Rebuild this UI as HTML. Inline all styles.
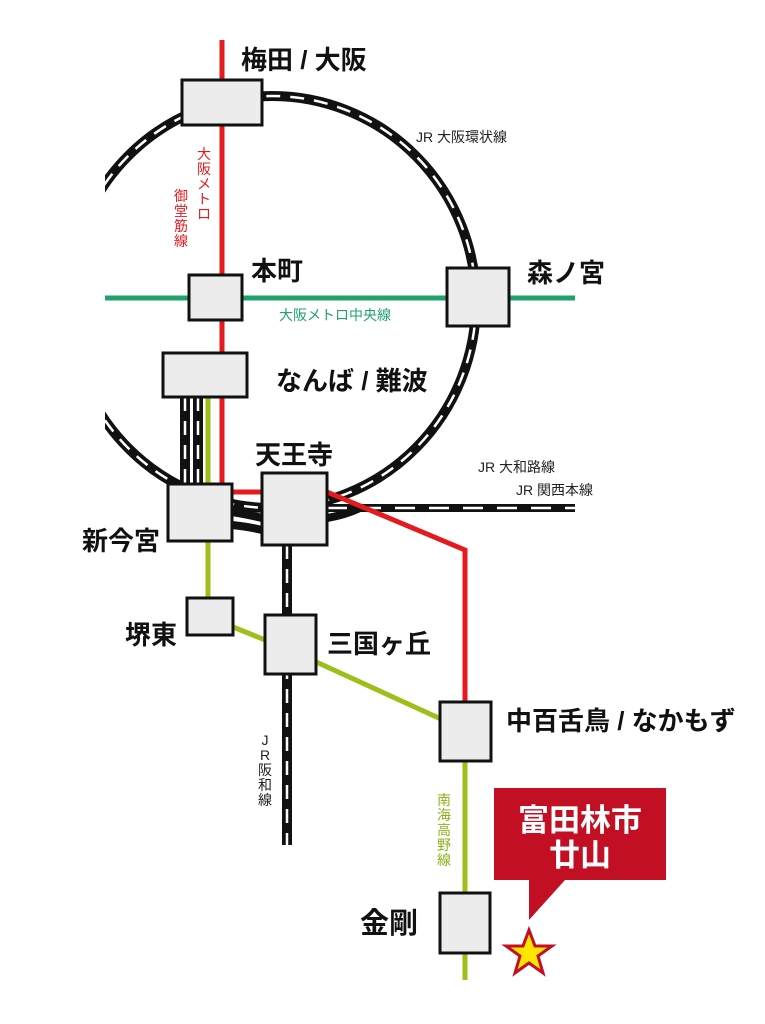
<!DOCTYPE html>
<html><head><meta charset="utf-8"><style>
html,body{margin:0;padding:0;background:#fff;}
svg{display:block;}
text{font-family:"Liberation Sans","Noto Sans CJK JP",sans-serif;}
.b{font-weight:bold;font-size:26px;fill:#111;}
.s{font-size:14px;fill:#222;}
</style></head><body>
<svg width="765" height="1024" viewBox="0 0 765 1024" xmlns="http://www.w3.org/2000/svg">
<defs><clipPath id="c"><rect x="105" y="0" width="660" height="1024"/></clipPath></defs>
<g clip-path="url(#c)">
<ellipse cx="272" cy="302" rx="204" ry="206" fill="none" stroke="#111" stroke-width="10"/>
<ellipse cx="272" cy="302" rx="204" ry="206" fill="none" stroke="#fff" stroke-width="2.5" stroke-dasharray="14 10"/>
</g>
<g fill="none">
<path d="M185 397V490 M198 397V490" stroke="#111" stroke-width="10"/>
<path d="M185 397V490 M198 397V490" stroke="#fff" stroke-width="2.5" stroke-dasharray="14 10"/>
<path d="M232 512 Q250 515 262 518 M232 525 Q250 527 262 530 M327 508H575 M327 518 Q345 515 360 508" stroke="#111" stroke-width="8"/>
<path d="M327 508H575" stroke="#fff" stroke-width="2.5" stroke-dasharray="20 14"/>
<path d="M287 545V845" stroke="#111" stroke-width="10"/>
<path d="M287 545V845" stroke="#fff" stroke-width="2.5" stroke-dasharray="14 10"/>
</g>
<path d="M105 298H575" stroke="#1fa36a" stroke-width="5"/>
<path d="M208 397V600 M233 627 L290 650 L465 730 V980" stroke="#9dbf1a" stroke-width="5" fill="none"/>
<path d="M222 40V492H262 M327 492 L465 550 V705" stroke="#e5191e" stroke-width="5" fill="none"/>
<g fill="#ececec" stroke="#111" stroke-width="3">
<rect x="182" y="80" width="80" height="45"/>
<rect x="189" y="275" width="53" height="45"/>
<rect x="447" y="268" width="62" height="58"/>
<rect x="163" y="353" width="84" height="44"/>
<rect x="168" y="484" width="64" height="57"/>
<rect x="262" y="473" width="65" height="72"/>
<rect x="187" y="598" width="46" height="37"/>
<rect x="265" y="615" width="51" height="59"/>
<rect x="440" y="702" width="51" height="59"/>
<rect x="440" y="893" width="50" height="60"/>
</g>
<text class="b" x="241" y="69">梅田 / 大阪</text>
<text class="b" x="251" y="280">本町</text>
<text class="b" x="527" y="282">森ノ宮</text>
<text class="b" x="276" y="390">なんば / 難波</text>
<text class="b" x="255" y="464">天王寺</text>
<text class="b" x="82" y="550">新今宮</text>
<text class="b" x="125" y="644">堺東</text>
<text class="b" x="327" y="653">三国ヶ丘</text>
<text class="b" x="506" y="730">中百舌鳥 / なかもず</text>
<text class="b" x="360" y="933" style="font-size:29px">金剛</text>
<text class="s" x="416" y="142">JR 大阪環状線</text>
<text class="s" x="478" y="472">JR 大和路線</text>
<text class="s" x="516" y="495">JR 関西本線</text>
<text class="s" x="279" y="320" style="fill:#1fa36a">大阪メトロ中央線</text>
<g class="s" style="fill:#e5191e" text-anchor="middle">
<text x="204" y="159">大</text><text x="204" y="174">阪</text><text x="204" y="189">メ</text><text x="204" y="204">ト</text><text x="204" y="219">ロ</text>
<text x="181" y="201">御</text><text x="181" y="216">堂</text><text x="181" y="231">筋</text><text x="181" y="246">線</text>
</g>
<g class="s" text-anchor="middle">
<text x="265" y="745">J</text><text x="265" y="760">R</text><text x="265" y="775">阪</text><text x="265" y="790">和</text><text x="265" y="805">線</text>
</g>
<g class="s" style="fill:#8bb31a" text-anchor="middle">
<text x="444" y="805">南</text><text x="444" y="820">海</text><text x="444" y="835">高</text><text x="444" y="850">野</text><text x="444" y="865">線</text>
</g>
<path d="M494 788H666V880H565L529 920V880H494Z" fill="#c20f23"/>
<text x="580" y="831" text-anchor="middle" style="font-weight:bold;font-size:31px;fill:#fff">富田林市</text>
<text x="580" y="866" text-anchor="middle" style="font-weight:bold;font-size:31px;fill:#fff">廿山</text>
<polygon points="529,930 535,946 552,946 538,956 543,973 529,963 515,973 520,956 506,946 523,946" fill="#ffe600" stroke="#c20f23" stroke-width="3"/>
</svg>
</body></html>
